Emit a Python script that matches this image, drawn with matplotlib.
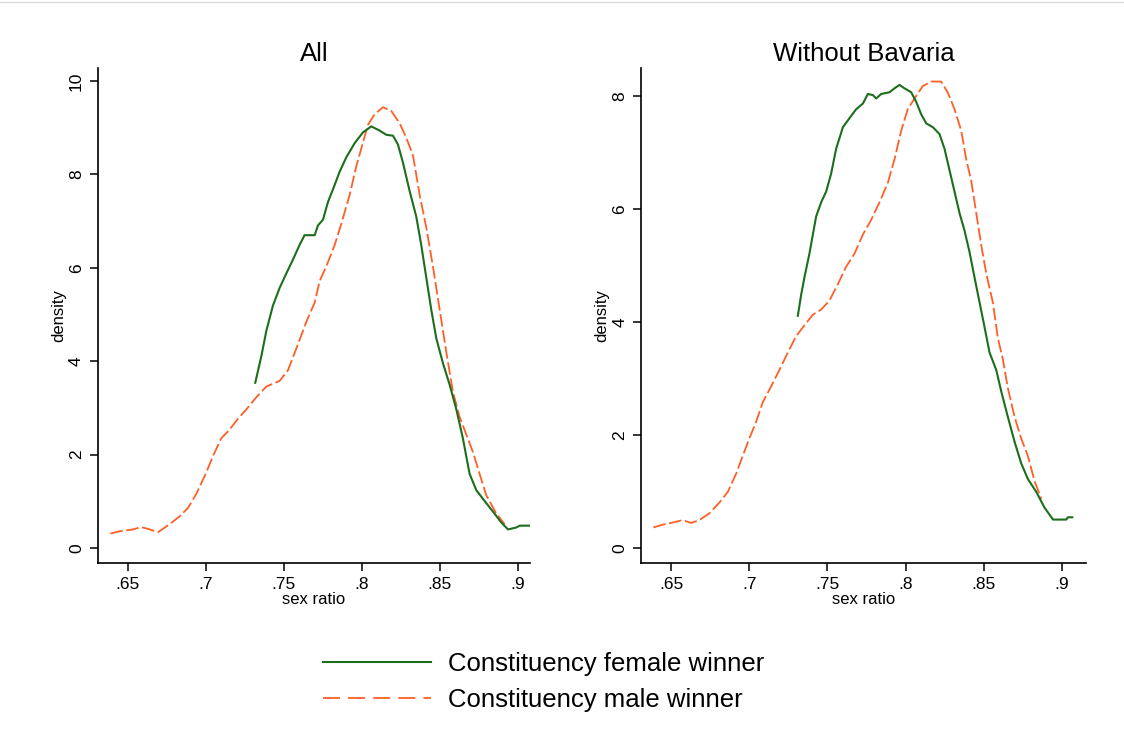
import numpy as np
import matplotlib
matplotlib.use('Agg')
import matplotlib.pyplot as plt
from matplotlib.lines import Line2D

plt.rcParams['font.family'] = ['Liberation Sans', 'DejaVu Sans']

############ data ############

# All constituencies
all_female_x = [.7316, .7355, .7387, .7429, .7472, .7515, .7558, .7600, .7632, .7697,
                .7718, .7750, .7782, .7814, .7857, .7900, .7953, .8006, .8060, .8113,
                .8156, .8199, .8231, .8263, .8306, .8348, .8380, .8412, .8444, .8476,
                .8519, .8562, .8605, .8647, .8690, .8733, .8786, .8840, .8893, .8936,
                .8989, .9011, .9075]
all_female_y = [3.54, 4.11, 4.65, 5.19, 5.57, 5.88, 6.18, 6.49, 6.70, 6.70,
                6.91, 7.03, 7.41, 7.68, 8.06, 8.37, 8.67, 8.90, 9.03, 8.94,
                8.85, 8.83, 8.64, 8.25, 7.64, 7.10, 6.49, 5.80, 5.11, 4.50,
                3.96, 3.50, 2.97, 2.35, 1.59, 1.24, 1.01, 0.78, 0.55, 0.40,
                0.44, 0.48, 0.48]

all_male_x = [.6387, .6447, .6532, .6585, .6639, .6692, .6767, .6831, .6885, .6938,
              .7002, .7045, .7098, .7152, .7205, .7259, .7323, .7387, .7472, .7526,
              .7579, .7643, .7697, .7729, .7771, .7825, .7868, .7921, .7964, .7996,
              .8038, .8081, .8135, .8188, .8241, .8284, .8327, .8370, .8412, .8455,
              .8498, .8541, .8583, .8626, .8669, .8712, .8754, .8797, .8861, .8915]
all_male_y = [0.31, 0.36, 0.40, 0.45, 0.40, 0.34, 0.51, 0.68, 0.86, 1.16,
              1.62, 1.97, 2.35, 2.54, 2.77, 2.97, 3.23, 3.46, 3.58, 3.81,
              4.27, 4.84, 5.26, 5.72, 6.03, 6.49, 6.95, 7.56, 8.18, 8.56,
              9.06, 9.29, 9.44, 9.36, 9.10, 8.79, 8.41, 7.56, 6.87, 6.03,
              5.11, 4.19, 3.35, 2.81, 2.43, 2.05, 1.59, 1.13, 0.74, 0.51]

# Without Bavaria
nob_female_x = [.7311, .7332, .7353, .7385, .7407, .7428, .7460, .7492, .7524, .7556,
                .7599, .7641, .7684, .7727, .7759, .7791, .7812, .7844, .7897, .7929,
                .7961, .7993, .8036, .8068, .8100, .8132, .8175, .8217, .8249, .8281,
                .8313, .8345, .8377, .8409, .8441, .8473, .8505, .8537, .8580, .8612,
                .8654, .8697, .8739, .8782, .8836, .8889, .8943, .8985, .9028, .9038,
                .9066]
nob_female_y = [4.11, 4.48, 4.79, 5.21, 5.55, 5.87, 6.12, 6.31, 6.63, 7.07,
                7.45, 7.61, 7.77, 7.87, 8.04, 8.02, 7.96, 8.04, 8.07, 8.14,
                8.20, 8.14, 8.07, 7.90, 7.68, 7.52, 7.45, 7.33, 7.07, 6.69,
                6.31, 5.93, 5.62, 5.24, 4.79, 4.35, 3.91, 3.46, 3.15, 2.77,
                2.32, 1.88, 1.50, 1.22, 0.99, 0.71, 0.50, 0.50, 0.50, 0.54,
                0.54]

nob_male_x = [.6387, .6447, .6500, .6575, .6628, .6681, .6745, .6809, .6863, .6916,
              .6959, .7001, .7044, .7087, .7140, .7193, .7247, .7300, .7353, .7407,
              .7460, .7513, .7567, .7620, .7673, .7727, .7780, .7833, .7887, .7929,
              .7972, .8014, .8057, .8110, .8164, .8228, .8271, .8313, .8356, .8388,
              .8420, .8452, .8484, .8516, .8558, .8590, .8622, .8654, .8697, .8739,
              .8782, .8825, .8868]
nob_male_y = [0.36, 0.41, 0.44, 0.49, 0.44, 0.49, 0.61, 0.80, 0.99, 1.31,
              1.63, 1.94, 2.23, 2.58, 2.86, 3.15, 3.46, 3.75, 3.94, 4.13,
              4.22, 4.38, 4.67, 4.98, 5.21, 5.55, 5.81, 6.12, 6.47, 6.88,
              7.39, 7.77, 7.96, 8.18, 8.26, 8.26, 8.06, 7.77, 7.39, 6.88,
              6.50, 5.93, 5.36, 4.86, 4.35, 3.72, 3.34, 2.83, 2.32, 1.94,
              1.63, 1.18, 0.87]

x_ticks = [.65, .7, .75, .8, .85, .9]
x_labels = ['.65', '.7', '.75', '.8', '.85', '.9']

green = '#1c6e1c'
orange = '#ff5f26'

fig = plt.figure(figsize=(11.24, 7.49), dpi=100)

panels = [
    ('All', [0.0872, 0.2483, 0.3843, 0.6609], all_female_x, all_female_y,
     all_male_x, all_male_y, [0, 2, 4, 6, 8, 10], (-0.32, 10.28)),
    ('Without Bavaria', [0.5703, 0.2483, 0.3959, 0.6609], nob_female_x, nob_female_y,
     nob_male_x, nob_male_y, [0, 2, 4, 6, 8], (-0.27, 8.5)),
]

for title, pos, fx, fy, mx, my, yt, ylim in panels:
    ax = fig.add_axes(pos)
    ax.plot(mx, my, color=orange, lw=1.3, dashes=(7, 2))
    ax.plot(fx, fy, color=green, lw=1.5)
    ax.set_xlim(.6308, .9077 if title == 'All' else .9154)
    ax.set_ylim(*ylim)
    ax.set_xticks(x_ticks)
    ax.set_xticklabels(x_labels)
    ax.set_yticks(yt)
    ax.set_yticklabels([str(v) for v in yt], rotation=90, va='center')
    for s in ['top', 'right']:
        ax.spines[s].set_visible(False)
    for s in ['left', 'bottom']:
        ax.spines[s].set_linewidth(1.2)
    ax.tick_params(length=6, width=1.1, labelsize=12.5, pad=4)
    ax.set_xlabel('sex ratio', fontsize=12, labelpad=0)
    ax.set_ylabel('density', fontsize=12, labelpad=2)
    ax.set_title(title, fontsize=18.5, pad=5)

handles = [Line2D([], [], color=green, lw=1.5),
           Line2D([], [], color=orange, lw=1.3, dashes=(9.4, 4.5))]
fig.legend(handles, ['Constituency female winner', 'Constituency male winner'],
           loc='center', bbox_to_anchor=(544 / 1124, 1 - 682 / 749),
           frameon=False, fontsize=18.5, handlelength=4.2, handletextpad=0.66,
           labelspacing=0.45)

fig.add_artist(Line2D([0, 1], [0.997, 0.997], color='#dddddd', lw=1))

plt.savefig('out.png', dpi=100)
